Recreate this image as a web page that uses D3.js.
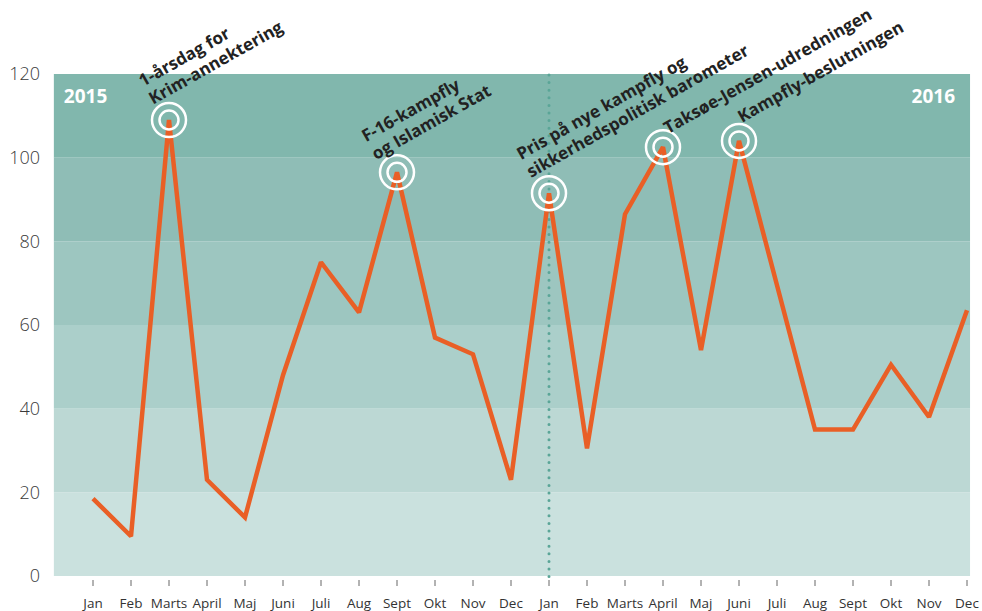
<!DOCTYPE html>
<html>
<head>
<meta charset="utf-8">
<script src="https://cdn.jsdelivr.net/npm/d3@7"></script>
<style>
  body { margin: 0; background: #fff; }
  svg text { font-family: "Open Sans", "Noto Sans", sans-serif; }
</style>
</head>
<body>
<div id="chart"></div>
<script>
"use strict";

// months, two years
const months = ["Jan", "Feb", "Marts", "April", "Maj", "Juni", "Juli", "Aug", "Sept", "Okt", "Nov", "Dec",
                "Jan", "Feb", "Marts", "April", "Maj", "Juni", "Juli", "Aug", "Sept", "Okt", "Nov", "Dec"];

const values = [18.5, 9.5, 109, 23, 14, 48, 75, 63, 96.5, 57, 53, 23,
                91.5, 30.5, 86.5, 102.5, 54, 104, 69.5, 35, 35, 50.5, 38, 63.5];

const yTicks = [0, 20, 40, 60, 80, 100, 120];

const bandColors = ["#cae1de", "#bcd8d4", "#abcfca", "#9dc6c0", "#8fbdb6", "#81b7ad"];

// annotations: month index + text lines
const notes = [
    {i: 2, lines: ["1-årsdag for", "Krim-annektering"], dx: -26, dy: -33},
    {i: 8, lines: ["F-16-kampfly", "og Islamisk Stat"], dx: -31, dy: -30},
    {i: 12, lines: ["Pris på nye kampfly og", "sikkerhedspolitisk barometer"], dx: -28, dy: -33},
    {i: 15, lines: ["Taksøe-Jensen-udredningen"], dx: 5, dy: -13},
    {i: 17, lines: ["Kampfly-beslutningen"], dx: 3, dy: -18}
];

const width = 982;
const height = 611;

const x = d3.scaleLinear()
    .domain([0, 23])
    .range([93, 967]);

const y = d3.scaleLinear()
    .domain([0, 120])
    .range([576, 74]);

const x0 = x(-1.03), x1 = x(23.08);

const svg = d3.select("#chart").append("svg")
    .attr("width", width)
    .attr("height", height);

// bands
svg.append("g")
  .selectAll("rect")
  .data(bandColors)
  .join("rect")
    .attr("x", x0)
    .attr("width", x1 - x0)
    .attr("y", (d, k) => y((k + 1) * 20))
    .attr("height", (d, k) => y(k * 20) - y((k + 1) * 20))
    .attr("fill", d => d);

// y labels
svg.append("g")
  .selectAll("text")
  .data(yTicks)
  .join("text")
    .attr("x", 40)
    .attr("y", d => y(d))
    .attr("dy", "0.36em")
    .attr("text-anchor", "end")
    .style("font-size", "18px")
    .style("font-weight", 300)
    .attr("fill", "#3a3a3a")
    .text(d => d);

// x ticks + labels
const xg = svg.append("g");

xg.selectAll("line")
  .data(months)
  .join("line")
    .attr("x1", (d, i) => x(i))
    .attr("x2", (d, i) => x(i))
    .attr("y1", 580)
    .attr("y2", 586)
    .attr("stroke", "#666")
    .attr("stroke-width", 1);

xg.selectAll("text")
  .data(months)
  .join("text")
    .attr("x", (d, i) => x(i))
    .attr("y", 608)
    .attr("text-anchor", "middle")
    .style("font-size", "13.5px")
    .attr("fill", "#333")
    .text(d => d);

// year divider
svg.append("line")
    .attr("x1", x(12))
    .attr("x2", x(12))
    .attr("y1", y(120) + 1)
    .attr("y2", 579)
    .attr("stroke", "#5aa597")
    .attr("stroke-width", 3)
    .attr("stroke-linecap", "round")
    .attr("stroke-dasharray", "0 7.6");

// year labels
svg.append("text")
    .attr("x", x0 + 10)
    .attr("y", 103)
    .style("font-size", "19px")
    .style("font-weight", 700)
    .attr("fill", "#fff")
    .text("2015");

svg.append("text")
    .attr("x", x1 - 15)
    .attr("y", 103)
    .attr("text-anchor", "end")
    .style("font-size", "19px")
    .style("font-weight", 700)
    .attr("fill", "#fff")
    .text("2016");

// the line
const line = d3.line()
    .x((d, i) => x(i))
    .y(d => y(d));

svg.append("path")
    .datum(values)
    .attr("fill", "none")
    .attr("stroke", "#e95f26")
    .attr("stroke-width", 4.5)
    .attr("stroke-linejoin", "miter")
    .attr("stroke-miterlimit", 2)
    .attr("d", line);

// rings
const rings = svg.append("g")
  .selectAll("g")
  .data(notes)
  .join("g")
    .attr("transform", d => `translate(${x(d.i)},${y(values[d.i])})`);

rings.append("circle")
    .attr("r", 9.5)
    .attr("fill", "none")
    .attr("stroke", "#fff")
    .attr("stroke-width", 2.5);

rings.append("circle")
    .attr("r", 17)
    .attr("fill", "none")
    .attr("stroke", "#fff")
    .attr("stroke-width", 2.5);

// annotation texts
const ann = svg.append("g")
  .selectAll("text")
  .data(notes)
  .join("text")
    .attr("transform", d => `translate(${x(d.i) + d.dx},${y(values[d.i]) + d.dy}) rotate(-29.5)`)
    .style("font-size", "17px")
    .style("font-weight", 700)
    .attr("fill", "#222");

ann.selectAll("tspan")
  .data(d => d.lines)
  .join("tspan")
    .attr("x", 0)
    .attr("y", (d, k) => k * 20.5)
    .text(d => d);

</script>
</body>
</html>
